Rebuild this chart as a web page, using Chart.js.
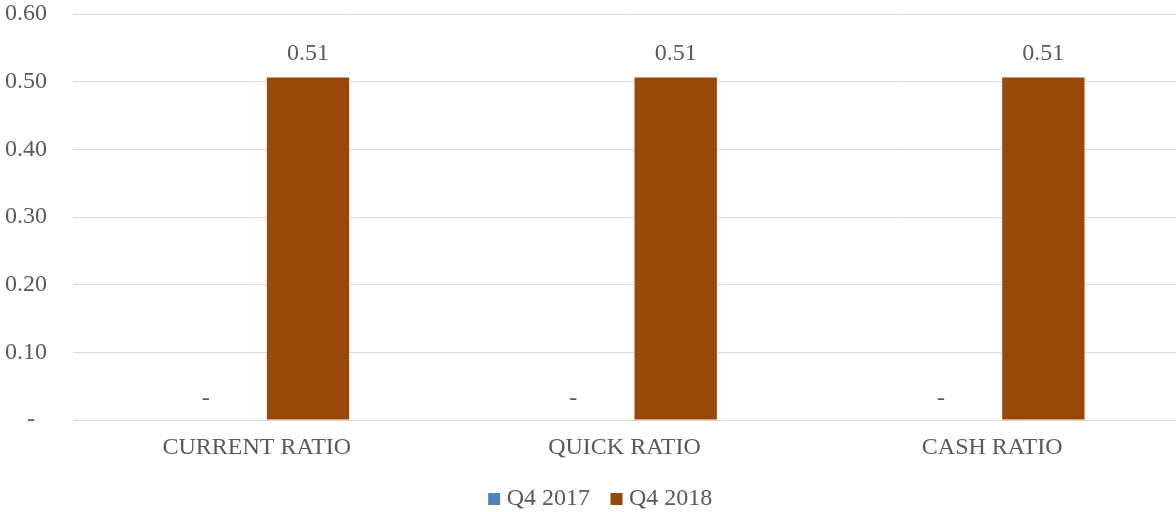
<!DOCTYPE html>
<html>
<head>
<meta charset="utf-8">
<script src="https://cdn.jsdelivr.net/npm/chart.js@4/dist/chart.umd.min.js"></script>
<style>
  html, body { margin: 0; padding: 0; background: #fff; }
  #wrap { width: 1176px; height: 512px; position: relative; }
</style>
</head>
<body>
<div id="wrap"><canvas id="ratioChart"></canvas></div>
<script>
const categorias = ['CURRENT RATIO', 'QUICK RATIO', 'CASH RATIO'];
const q4_2017 = [0, 0, 0];
const q4_2018 = [0.506, 0.506, 0.506];
const ticksY = [0, 0.1, 0.2, 0.3, 0.4, 0.5, 0.6];

const textoGris = '#595959';
const fuente = 'Liberation Serif, "Times New Roman", serif';

function formatoRatio(v) {
    return v === 0 ? '-' : v.toFixed(2);
}

// etiquetas de valor encima de cada barra
const etiquetasValor = {
    id: 'etiquetasValor',
    afterDatasetsDraw(chart) {
        const ctx = chart.ctx;
        ctx.save();
        ctx.font = '24px ' + fuente;
        ctx.fillStyle = textoGris;
        ctx.textAlign = 'center';
        ctx.textBaseline = 'bottom';
        chart.data.datasets.forEach((ds, i) => {
            chart.getDatasetMeta(i).data.forEach((bar, j) => {
                const v = ds.data[j];
                ctx.fillText(formatoRatio(v), bar.x, bar.y - (v === 0 ? 9 : 12));
            });
        });
        ctx.restore();
    }
};

// corre la leyenda un poco a la derecha
const moverLeyenda = {
    id: 'moverLeyenda',
    afterLayout(chart) {
        chart.legend.left += 15;
        chart.legend.right += 15;
    }
};

const ctx = document.getElementById('ratioChart').getContext('2d');
new Chart(ctx, {
    type: 'bar',
    data: {
        labels: categorias,
        datasets: [
            { label: 'Q4 2017', data: q4_2017, backgroundColor: '#4F81BD' },
            { label: 'Q4 2018', data: q4_2018, backgroundColor: '#984807' }
        ]
    },
    options: {
        responsive: true,
        maintainAspectRatio: false,
        animation: false,
        categoryPercentage: 0.557,
        barPercentage: 0.804,
        layout: { padding: { top: 14, left: 0, right: 0, bottom: -9 } },
        plugins: {
            tooltip: { enabled: false },
            legend: {
                position: 'bottom',
                labels: {
                    color: textoGris,
                    font: { family: fuente, size: 24 },
                    usePointStyle: true,
                    pointStyle: 'rect',
                    boxWidth: 1,
                    boxHeight: 12,
                    padding: 26
                }
            }
        },
        scales: {
            x: {
                afterFit(scale) { scale.height = 41; },
                grid: { display: false },
                border: { color: '#D9D9D9', width: 1 },
                ticks: {
                    color: textoGris,
                    font: { family: fuente, size: 24 },
                    padding: 5
                }
            },
            y: {
                min: 0,
                max: 0.6,
                afterFit(scale) {
                    scale.width = 73;
                    scale.paddingTop = 0;
                    scale.paddingBottom = 0;
                },
                afterBuildTicks(scale) {
                    scale.ticks = ticksY.map(v => ({ value: v }));
                },
                grid: { color: '#D9D9D9', drawTicks: false },
                border: { display: false },
                ticks: {
                    color: textoGris,
                    font: { family: fuente, size: 24 },
                    padding: 26,
                    callback: v => v === 0 ? '-  ' : v.toFixed(2)
                }
            }
        }
    },
    plugins: [etiquetasValor, moverLeyenda]
});
</script>
</body>
</html>
